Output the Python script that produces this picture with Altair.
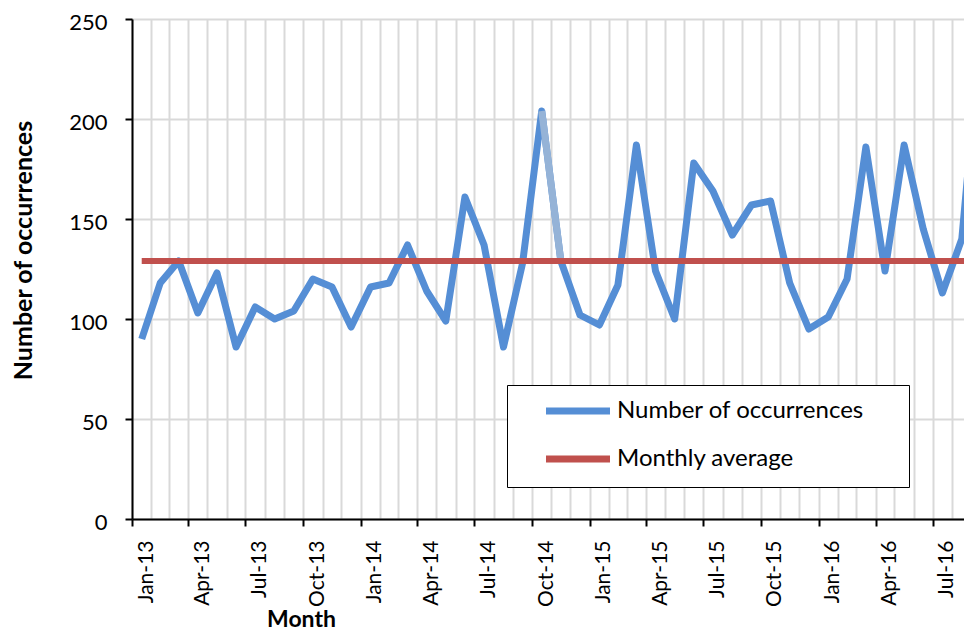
import altair as alt
import pandas as pd

# ---- data ----
month_labels = [
    "Jan-13", "Feb-13", "Mar-13", "Apr-13", "May-13", "Jun-13", "Jul-13", "Aug-13", "Sep-13", "Oct-13", "Nov-13", "Dec-13",
    "Jan-14", "Feb-14", "Mar-14", "Apr-14", "May-14", "Jun-14", "Jul-14", "Aug-14", "Sep-14", "Oct-14", "Nov-14", "Dec-14",
    "Jan-15", "Feb-15", "Mar-15", "Apr-15", "May-15", "Jun-15", "Jul-15", "Aug-15", "Sep-15", "Oct-15", "Nov-15", "Dec-15",
    "Jan-16", "Feb-16", "Mar-16", "Apr-16", "May-16", "Jun-16", "Jul-16", "Aug-16", "Sep-16",
]
occurrences = [
    90, 118, 129, 103, 123, 86, 106, 100, 104, 120, 116, 96,
    116, 118, 137, 114, 99, 161, 137, 86, 128, 204, 129, 102,
    97, 117, 187, 124, 100, 178, 164, 142, 157, 159, 118, 95,
    101, 120, 186, 124, 187, 145, 113, 140, 245,
]
monthly_average = 129
highlight_months = ["Oct-14", "Nov-14"]
series_names = ["Number of occurrences", "Monthly average"]
series_colors = ["#558ED5", "#C0504D"]
highlight_color = "#95B3D7"
y_ticks = [0, 50, 100, 150, 200, 250]

dates = pd.to_datetime(month_labels, format="%b-%y")

df_occ = pd.DataFrame({"date": dates, "label": month_labels, "value": occurrences,
                       "series": series_names[0]})
df_avg = pd.DataFrame({"date": dates, "label": month_labels,
                       "value": [monthly_average] * len(month_labels),
                       "series": series_names[1]})
df_hi = df_occ[df_occ["label"].isin(highlight_months)].copy()

FONT = "Lato"

x_enc = alt.X(
    "date:T",
    timeUnit="yearmonth",
    bandPosition=0.5,
    scale=alt.Scale(domain=[alt.DateTime(year=2013, month=1, date=1),
                            alt.DateTime(year=2016, month=8, date=20)]),
    axis=alt.Axis(
        title="Month",
        tickCount={"interval": "month", "step": 1},
        labelExpr="month(datum.value) % 3 == 0 ? timeFormat(datum.value, '%b-%y') : ''",
        labelAngle=270,
        labelOffset=14,
        labelPadding=14,
        labelOverlap=False,
        labelFlush=False,
        labelBound=False,
        labelFont=FONT,
        labelFontSize=21,
        labelColor="black",
        tickSize=7,
        tickWidth=2,
        tickColor="black",
        tickOpacity={"condition": {"test": "month(datum.value) % 3 == 0", "value": 1}, "value": 0},
        grid=True,
        gridColor="#D9D9D9",
        gridWidth=2,
        domainColor="black",
        domainWidth=2,
        titleFont=FONT,
        titleFontSize=23,
        titleFontWeight="bold",
        titleColor="black",
        titleX=169,
        titleY=107,
        titleAlign="center",
        titleBaseline="alphabetic",
    ),
)

y_enc = alt.Y(
    "value:Q",
    scale=alt.Scale(domain=[0, 250]),
    axis=alt.Axis(
        title="Number of occurrences",
        values=y_ticks,
        tickSize=7,
        tickWidth=2,
        tickColor="black",
        labelPadding=18,
        labelOffset=3,
        labelFont=FONT,
        labelFontSize=22,
        labelColor="black",
        grid=True,
        gridColor="#D9D9D9",
        gridWidth=2,
        domainColor="black",
        domainWidth=2,
        titleFont=FONT,
        titleFontSize=25,
        titleFontWeight="bold",
        titleColor="black",
        titleAngle=270,
        titleX=-109,
        titleY=231,
        titleAlign="center",
        titleBaseline="middle",
    ),
)

color_enc = alt.Color(
    "series:N",
    scale=alt.Scale(domain=series_names, range=series_colors),
    legend=alt.Legend(
        title=" ",
        titleOrient="right",
        titleFontSize=1,
        titlePadding=31,
        orient="none",
        legendX=375,
        legendY=366,
        symbolType="M-4,0H4",
        symbolSize=256,
        symbolStrokeWidth=7,
        symbolOffset=45,
        labelOffset=27,
        padding=14,
        rowPadding=20,
        strokeColor="black",
        fillColor="white",
        labelFont=FONT,
        labelFontSize=24,
        labelColor="black",
        labelLimit=0,
    ),
)

occ_line = alt.Chart(df_occ).mark_line(strokeWidth=7, strokeJoin="round", clip=True).encode(
    x=x_enc, y=y_enc, color=color_enc
)
hi_line = alt.Chart(df_hi).mark_line(strokeWidth=7, strokeJoin="round", clip=True,
                                      color=highlight_color).encode(x=x_enc, y=y_enc)
avg_line = alt.Chart(df_avg).mark_line(strokeWidth=6, clip=True).encode(
    x=x_enc, y=y_enc, color=color_enc
)

chart = alt.layer(occ_line, hi_line, avg_line).properties(
    width=832,
    height=500,
    autosize=alt.AutoSizeParams(type="none"),
    padding={"left": 124, "top": 11, "right": 0, "bottom": 112},
).configure_view(stroke=None).configure(background="white")

chart.save("out.html", embed_options={"renderer": "svg", "actions": False})
